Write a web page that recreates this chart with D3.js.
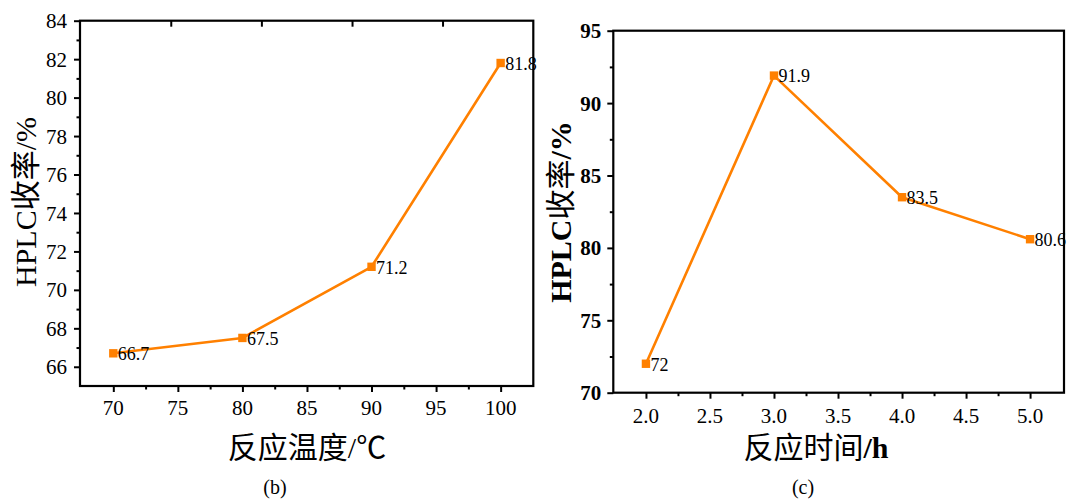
<!DOCTYPE html>
<html><head><meta charset="utf-8">
<script src="https://cdn.jsdelivr.net/npm/d3@7"></script>
<style>
  body { margin: 0; background: #fff; }
  svg { display: block; }
  text { fill: #000; }
</style>
</head><body>
<svg id="fig" width="1068" height="499"></svg>
<script>
// Panel (b): HPLC yield against reaction temperature
const tempC = [70, 80, 90, 100];
const tempYield = [66.7, 67.5, 71.2, 81.8];
const tempXTicks = [70, 75, 80, 85, 90, 95, 100];
const tempXMinor = [72.5, 77.5, 82.5, 87.5, 92.5, 97.5];
const tempTopTicks = [74.45, 81.47, 88.49, 95.5];
const tempYTicks = [66, 68, 70, 72, 74, 76, 78, 80, 82, 84];
const tempYMinor = [67, 69, 71, 73, 75, 77, 79, 81, 83];

// Panel (c): HPLC yield against reaction time
const timeH = [2, 3, 4, 5];
const timeYield = [72, 91.9, 83.5, 80.6];
const timeXTicks = [2.0, 2.5, 3.0, 3.5, 4.0, 4.5, 5.0];
const timeXMinor = [2.25, 2.75, 3.25, 3.75, 4.25, 4.75];
const timeYTicks = [70, 75, 80, 85, 90, 95];
const timeYMinor = [72.5, 77.5, 82.5, 87.5, 92.5];

const SERIF = "'Liberation Serif', 'Noto Sans CJK SC', serif";
const LINE = "#ff8000";

const svg = d3.select("#fig");
svg.append("rect").attr("width", 1068).attr("height", 499).attr("fill", "#fff");

function panel(o) {
  const x = d3.scaleLinear().domain(o.xDomain).range(o.xRange);
  const y = d3.scaleLinear().domain(o.yDomain).range(o.yRange);
  const g = svg.append("g");
  const [x0, x1] = o.xRange, [y0, y1] = o.yRange; // y0 bottom, y1 top

  // connecting line
  const pts = o.xs.map((v, i) => [v, o.ys[i]]);
  g.append("path")
    .attr("d", d3.line().x(d => x(d[0])).y(d => y(d[1]))(pts))
    .attr("fill", "none").attr("stroke", LINE).attr("stroke-width", 2.6)
    .attr("stroke-linejoin", "round");

  // frame
  g.append("rect")
    .attr("x", x0).attr("y", y1).attr("width", x1 - x0).attr("height", y0 - y1)
    .attr("fill", "none").attr("stroke", "#000").attr("stroke-width", 2.2);

  // ticks (drawn through D3 axes, labels added separately)
  const tickStyle = sel => {
    sel.select(".domain").remove();
    sel.selectAll(".tick line").attr("stroke", "#000").attr("stroke-width", 2);
    sel.selectAll(".tick text").remove();
  };
  g.append("g").attr("transform", `translate(0,${y0})`)
    .call(d3.axisBottom(x).tickValues(o.xTicks).tickSize(6)).call(tickStyle);
  g.append("g").attr("transform", `translate(0,${y0})`)
    .call(d3.axisBottom(x).tickValues(o.xMinor).tickSize(3.5)).call(tickStyle);
  g.append("g").attr("transform", `translate(${x0},0)`)
    .call(d3.axisLeft(y).tickValues(o.yTicks).tickSize(6)).call(tickStyle);
  g.append("g").attr("transform", `translate(${x0},0)`)
    .call(d3.axisLeft(y).tickValues(o.yMinor).tickSize(3.5)).call(tickStyle);
  if (o.topTicks) {
    g.append("g").attr("transform", `translate(0,${y1})`)
      .call(d3.axisBottom(x).tickValues(o.topTicks).tickSize(6)).call(tickStyle);
  }

  // tick labels
  g.append("g").selectAll("text").data(o.xTicks).join("text")
    .attr("x", d => x(d)).attr("y", y0 + o.xLabelDy)
    .attr("text-anchor", "middle")
    .attr("font-family", "Liberation Serif").attr("font-size", 21)
    .attr("font-weight", o.xTickBold ? "bold" : "normal")
    .text(o.xFmt);
  g.append("g").selectAll("text").data(o.yTicks).join("text")
    .attr("x", x0 - o.yLabelDx).attr("y", d => y(d)).attr("dy", "0.36em")
    .attr("text-anchor", "end")
    .attr("font-family", "Liberation Serif").attr("font-size", 21)
    .attr("font-weight", o.yTickBold ? "bold" : "normal")
    .text(o.yFmt);

  // markers and value labels
  g.append("g").selectAll("rect").data(pts).join("rect")
    .attr("x", d => x(d[0]) - 4.2).attr("y", d => y(d[1]) - 4.2)
    .attr("width", 8.4).attr("height", 8.4).attr("fill", LINE);
  g.append("g").selectAll("text").data(pts).join("text")
    .attr("x", d => x(d[0]) + 4.5).attr("y", d => y(d[1]) + 6.8)
    .attr("font-family", "Liberation Serif").attr("font-size", 18)
    .text(d => String(d[1]));

  return { x, y, g };
}

panel({
  xs: tempC, ys: tempYield,
  xDomain: [67.42, 102.53], xRange: [80, 533.3],
  yDomain: [65, 84], yRange: [386, 20.7],
  xTicks: tempXTicks, xMinor: tempXMinor, topTicks: tempTopTicks,
  yTicks: tempYTicks, yMinor: tempYMinor,
  xFmt: d => d3.format("d")(d), yFmt: d => d3.format("d")(d),
  xLabelDy: 29, yLabelDx: 13
});

panel({
  xs: timeH, ys: timeYield,
  xDomain: [1.745, 5.265], xRange: [613.3, 1064],
  yDomain: [70, 95], yRange: [392.7, 30.7],
  xTicks: timeXTicks, xMinor: timeXMinor,
  yTicks: timeYTicks, yMinor: timeYMinor,
  xFmt: d => d3.format(".1f")(d), yFmt: d => d3.format("d")(d),
  yTickBold: true,
  xLabelDy: 30, yLabelDx: 12
});

// axis titles
svg.append("text").attr("transform", "translate(36,202) rotate(-90)")
  .attr("text-anchor", "middle").style("font-family", SERIF).style("font-size", "30px")
  .text("HPLC收率/%");

svg.append("text").attr("x", 307).attr("y", 458).attr("text-anchor", "middle")
  .style("font-family", SERIF).style("font-size", "30px").text("反应温度/℃");

const t2 = svg.append("text").attr("transform", "translate(571,212) rotate(-90)")
  .attr("text-anchor", "middle").style("font-family", SERIF).style("font-size", "30px")
  .style("font-weight", "bold");
t2.append("tspan").text("HPLC");
t2.append("tspan").style("font-weight", "normal").text("收率");
t2.append("tspan").text("/%");

const t3 = svg.append("text").attr("x", 816).attr("y", 458).attr("text-anchor", "middle")
  .style("font-family", SERIF).style("font-size", "30px");
t3.append("tspan").text("反应时间");
t3.append("tspan").style("font-weight", "bold").text("/h");

// panel captions
svg.append("text").attr("x", 275).attr("y", 494).attr("text-anchor", "middle")
  .attr("font-family", "Liberation Serif").attr("font-size", 20).text("(b)");
svg.append("text").attr("x", 803).attr("y", 494).attr("text-anchor", "middle")
  .attr("font-family", "Liberation Serif").attr("font-size", 20).text("(c)");
</script>
</body></html>
